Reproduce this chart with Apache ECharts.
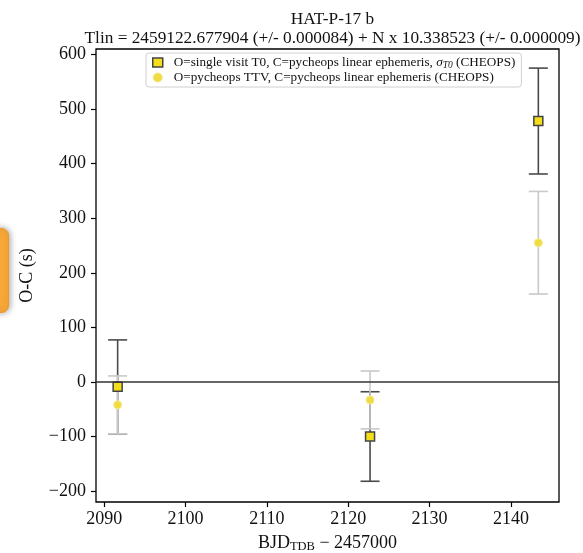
<!DOCTYPE html>
<html>
<head>
<meta charset="utf-8">
<script src="https://cdn.jsdelivr.net/npm/echarts@6/dist/echarts.min.js"></script>
<style>
html,body{margin:0;padding:0;background:#fff;}
#chart{width:583px;height:553px;}
</style>
</head>
<body>
<div id="chart"></div>
<script>
// ---- data ----
const epochX = [2091.66, 2122.68, 2143.36];
const t0OC   = [-9, -100, 478];
const t0Err  = [86, 82, 97];
const ttvOC  = [-42, -33, 255];
const ttvErr = [53, 53, 94];
const xTicks = [2090, 2100, 2110, 2120, 2130, 2140];
const yTicks = [-200, -100, 0, 100, 200, 300, 400, 500, 600];
const titleLine1 = 'HAT-P-17 b';
const titleLine2 = 'Tlin = 2459122.677904 (+/- 0.000084) + N x 10.338523 (+/- 0.000009)';
const nameT0  = 'O=single visit T0, C=pycheops linear ephemeris, sigmaT0 (CHEOPS)';
const nameTTV = 'O=pycheops TTV, C=pycheops linear ephemeris (CHEOPS)';

const FONT = '"Liberation Serif", "DejaVu Serif", serif';
const DARK = '#4a4a4a';
const LIGHT = '#c9c9c9';

const t0Data  = epochX.map((x, i) => [x, t0OC[i], t0Err[i]]);
const ttvData = epochX.map((x, i) => [x, ttvOC[i], ttvErr[i]]);

function errRender(color) {
  return function (params, api) {
    const x = api.value(0), y = api.value(1), e = api.value(2);
    const top = api.coord([x, y + e]);
    const bot = api.coord([x, y - e]);
    const cw = 9.5;
    const st = { stroke: color, lineWidth: 1.6 };
    return {
      type: 'group',
      children: [
        { type: 'line', shape: { x1: top[0], y1: top[1], x2: bot[0], y2: bot[1] }, style: st },
        { type: 'line', shape: { x1: top[0] - cw, y1: top[1], x2: top[0] + cw, y2: top[1] }, style: st },
        { type: 'line', shape: { x1: bot[0] - cw, y1: bot[1], x2: bot[0] + cw, y2: bot[1] }, style: st }
      ]
    };
  };
}

const fmtMinus = v => (v < 0 ? '\u2212' + Math.abs(v) : String(v));

const chart = echarts.init(document.getElementById('chart'), null, { renderer: 'canvas' });
chart.setOption({
  animation: false,
  backgroundColor: '#fff',
  textStyle: { fontFamily: FONT },
  title: {
    text: titleLine1 + '\n' + titleLine2,
    left: 327.5,
    textAlign: 'center',
    top: 5,
    textStyle: { fontFamily: FONT, fontSize: 17.3, fontWeight: 'normal', color: '#111', lineHeight: 19 }
  },
  grid: {
    left: 96, right: 24, top: 49, bottom: 51,
    containLabel: false, outerBoundsMode: 'none',
    show: true, borderColor: '#000', borderWidth: 1.3, backgroundColor: 'transparent'
  },
  legend: {
    orient: 'vertical',
    left: 146,
    top: 53,
    padding: [3, 6, 3, 6],
    itemGap: 1,
    itemWidth: 10,
    itemHeight: 9,
    backgroundColor: '#fff',
    borderColor: '#d0d0d0',
    borderWidth: 1,
    borderRadius: 3,
    data: [
      { name: nameT0, icon: 'rect', itemStyle: { color: '#f4de1a', borderColor: '#444', borderWidth: 1.5 } },
      { name: nameTTV, icon: 'circle', itemStyle: { color: '#f0dc40', borderColor: '#f3e890', borderWidth: 1 } }
    ],
    formatter: function (name) {
      if (name === nameT0) {
        return '{t|O=single visit T0, C=pycheops linear ephemeris, }{i|\u03c3}{s|T0}{t| (CHEOPS)}';
      }
      return '{t|' + name + '}';
    },
    textStyle: {
      fontFamily: FONT, fontSize: 13.2, color: '#111', padding: [0, 0, 0, 6],
      rich: {
        t: { fontFamily: FONT, fontSize: 13.2, color: '#111' },
        i: { fontFamily: FONT, fontSize: 13.2, fontStyle: 'italic', color: '#111' },
        s: { fontFamily: FONT, fontSize: 9.5, fontStyle: 'italic', color: '#111', verticalAlign: 'bottom', padding: [5, 0, 0, 0] }
      }
    }
  },
  xAxis: {
    type: 'value',
    min: 2089.0,
    max: 2145.9,
    name: '{a|BJD}{s|TDB}{a| \u2212 2457000}',
    nameLocation: 'middle',
    nameGap: 27,
    nameTextStyle: {
      verticalAlign: 'top',
      rich: {
        a: { fontFamily: FONT, fontSize: 18, color: '#111', lineHeight: 20 },
        s: { fontFamily: FONT, fontSize: 12.5, color: '#111', lineHeight: 20, padding: [7, 0, 0, 0] }
      }
    },
    axisLine: { show: false, onZero: false },
    splitLine: { show: false },
    axisTick: { show: true, inside: false, length: 5, lineStyle: { color: '#000', width: 1.2 }, customValues: xTicks },
    axisLabel: { customValues: xTicks, fontFamily: FONT, fontSize: 18, color: '#111', margin: 8, formatter: v => String(v) }
  },
  yAxis: {
    type: 'value',
    min: -220,
    max: 610,
    name: 'O-C (s)',
    nameLocation: 'middle',
    nameGap: 60,
    nameTextStyle: { fontFamily: FONT, fontSize: 18, color: '#111' },
    axisLine: { show: false, onZero: false },
    splitLine: { show: false },
    axisTick: { show: true, inside: false, length: 5, lineStyle: { color: '#000', width: 1.2 }, customValues: yTicks },
    axisLabel: { customValues: yTicks, fontFamily: FONT, fontSize: 18, color: '#111', margin: 10, formatter: fmtMinus }
  },
  series: [
    {
      name: 'errT0', type: 'custom', renderItem: errRender(DARK),
      encode: { x: 0, y: 1 }, data: t0Data, z: 2, silent: true,
      markLine: {
        silent: true, symbol: 'none', label: { show: false },
        lineStyle: { color: '#333', width: 1.6, type: 'solid' },
        data: [{ yAxis: 0 }]
      }
    },
    {
      name: 'errTTV', type: 'custom', renderItem: errRender(LIGHT),
      encode: { x: 0, y: 1 }, data: ttvData, z: 3, silent: true
    },
    {
      name: nameT0, type: 'scatter', symbol: 'rect', symbolSize: 9, z: 4,
      itemStyle: { color: '#f4de1a', borderColor: '#444', borderWidth: 1.5, opacity: 1 },
      data: t0Data.map(d => [d[0], d[1]])
    },
    {
      name: nameTTV, type: 'scatter', symbol: 'circle', symbolSize: 8, z: 5,
      itemStyle: { color: '#f0dc40', borderColor: '#f5eb8c', borderWidth: 1, opacity: 1 },
      data: ttvData.map(d => [d[0], d[1]])
    }
  ],
  graphic: [
    {
      type: 'rect', left: -12, top: 228, z: 100,
      shape: { width: 20, height: 84, r: 7 },
      style: { fill: '#f8a838', stroke: '#f0962a', lineWidth: 1, shadowBlur: 6, shadowColor: 'rgba(0,0,0,0.35)', shadowOffsetX: 1 }
    }
  ]
});
</script>
</body>
</html>
